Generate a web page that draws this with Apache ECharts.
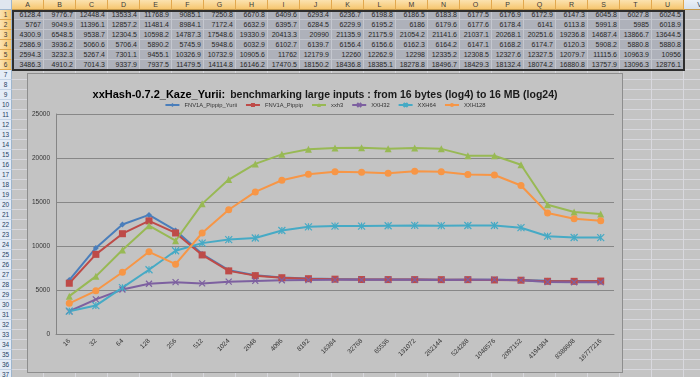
<!DOCTYPE html>
<html>
<head>
<meta charset="utf-8">
<script src="https://cdn.jsdelivr.net/npm/echarts@6/dist/echarts.min.js"></script>
<style>
  body { margin: 0; width: 700px; height: 377px; overflow: hidden; background: #c4c4c4; font-family: "Liberation Sans", Arial, sans-serif; }
  #sheet { position: absolute; left: 0; top: 0; width: 700px; height: 377px; }
  .c { position: absolute; box-sizing: border-box; font-size: 7px; line-height: 10px; white-space: nowrap; overflow: hidden; }
  #chart { position: absolute; left: 27px; top: 73px; width: 594px; height: 298px; background: #c3c3c3; border: 1px solid #8e8e8e; }
</style>
</head>
<body>
<div id="sheet"></div>
<div id="chart"></div>
<script>
// input sizes (bytes), 2^4 .. 2^24
const sizes = ['16', '32', '64', '128', '256', '512', '1024', '2048', '4096', '8192', '16384', '32768',
  '65536', '131072', '262144', '524288', '1048576', '2097152', '4194304', '8388608', '16777216'];

// MB/s per hash (rows 1..6 of the sheet)
const fnvPippipYurii = [6128.4, 9776.7, 12448.4, 13533.4, 11768.9, 9085.1, 7250.8, 6670.8, 6409.6, 6293.4, 6236.7,
  6198.8, 6186.5, 6183.8, 6177.5, 6176.9, 6172.9, 6147.3, 6045.8, 6027.8, 6024.5];
const fnvPippip = [5767, 9049.9, 11396.1, 12857.2, 11481.4, 8984.1, 7172.4, 6632.9, 6395.7, 6284.5, 6229.9,
  6195.2, 6186, 6179.6, 6177.6, 6178.4, 6141, 6113.8, 5991.8, 5985, 6018.9];
const xxh3 = [4300.9, 6548.5, 9538.7, 12304.5, 10598.2, 14787.3, 17548.6, 19330.9, 20413.3, 20990, 21135.9,
  21175.9, 21054.2, 21141.6, 21037.1, 20268.1, 20251.6, 19236.8, 14687.4, 13866.7, 13644.5];
const xxh32 = [2586.9, 3936.2, 5060.6, 5706.4, 5890.2, 5745.9, 5948.6, 6032.9, 6102.7, 6139.7, 6156.4,
  6156.6, 6162.3, 6164.2, 6147.1, 6168.2, 6174.7, 6120.3, 5908.2, 5880.8, 5880.8];
const xxh64 = [2594.3, 3232.3, 5267.4, 7301.1, 9455.1, 10326.9, 10732.9, 10905.6, 11762, 12179.9, 12260,
  12262.9, 12298, 12335.2, 12308.5, 12327.6, 12327.5, 12079.7, 11115.6, 10963.9, 10956];
const xxh128 = [3486.3, 4910.2, 7014.3, 9337.9, 7937.5, 11479.5, 14114.8, 16146.2, 17470.5, 18150.2, 18436.8,
  18385.1, 18278.8, 18496.7, 18429.3, 18132.4, 18074.2, 16880.8, 13757.9, 13096.3, 12876.1];

const seriesNames = ['FNV1A_Pippip_Yurii', 'FNV1A_Pippip', 'xxh3', 'XXH32', 'XXH64', 'XXH128'];
const seriesData = [fnvPippipYurii, fnvPippip, xxh3, xxh32, xxh64, xxh128];
const colLetters = 'ABCDEFGHIJKLMNOPQRSTUV'.split('');

// ---- worksheet (plain html) ----
const sheet = document.getElementById('sheet');
const COLW = 32, ROWH = 10, X0 = 12;
function cell(x, y, w, h, css, text) {
  const d = document.createElement('div');
  d.className = 'c';
  d.style.cssText = `left:${x}px;top:${y}px;width:${w}px;height:${h}px;` + css;
  if (text !== undefined) d.textContent = text;
  sheet.appendChild(d);
}
// corner
cell(0, 0, X0, ROWH, 'background:#dfe6ef;border-right:1px solid #9eb6ce;border-bottom:1px solid #9eb6ce;');
// column headers
colLetters.forEach((l, i) => {
  const sel = i < 21;
  cell(X0 + i * COLW, 0, COLW, ROWH,
    (sel ? 'background:linear-gradient(#fbe2b0,#f6c66f);color:#3a3a3a;border-right:1px solid #e2a84e;'
         : 'background:linear-gradient(#eaf0f7,#d6e1ee);color:#27415f;border-right:1px solid #9eb6ce;') +
    'border-bottom:1px solid #c79a4a;text-align:center;', l);
});
// row headers + cells
for (let r = 1; r <= 37; r++) {
  const y = r * ROWH;
  const sel = r <= 6;
  cell(0, y, X0, ROWH,
    (sel ? 'background:linear-gradient(90deg,#fbe2b0,#f6c66f);color:#3a3a3a;border-bottom:1px solid #e2a84e;'
         : 'background:#e4ecf7;color:#27415f;border-bottom:1px solid #c5d4e6;') +
    'border-right:1px solid #9eb6ce;text-align:center;font-size:6.5px;', String(r));
  for (let c = 0; c < 22; c++) {
    const inSel = sel && c < 21;
    const txt = inSel ? String(seriesData[r - 1][c]) : undefined;
    cell(X0 + c * COLW, y, COLW, ROWH,
      (inSel ? 'background:#aeb1ba;border-right:1px solid #c4c7cf;border-bottom:1px solid #c4c7cf;color:#262626;'
             : 'background:#c4c4c4;border-right:1px solid #d8d8de;border-bottom:1px solid #d8d8de;') +
      'text-align:right;padding-right:2px;', txt);
  }
}
// selection frame
cell(X0, ROWH, 21 * COLW + 1, 6 * ROWH + 1, 'border:2px solid #2e2e2e;');

// ---- chart ----
const colors = ['#4a7ebb', '#be4b48', '#98b954', '#7d60a0', '#46aac5', '#f79646'];
const symbols = ['diamond', 'rect', 'triangle',
  'path://M0,0L10,10M10,0L0,10',
  'path://M0,0L10,10M10,0L0,10M5,0L5,10',
  'circle'];
const symbolSizes = [6, 7, 7, 6, 7, 7];

const myChart = echarts.init(document.getElementById('chart'), null, { renderer: 'canvas' });
myChart.setOption({
  animation: false,
  backgroundColor: '#c3c3c3',
  title: {
    text: '{b|xxHash-0.7.2_Kaze_Yurii:} {n|benchmarking large inputs : from 16 bytes (log4) to 16 MB (log24)}',
    left: 'center',
    top: 7,
    textStyle: {
      rich: {
        b: { fontSize: 11, fontWeight: 'bold', color: '#000', fontFamily: 'Liberation Sans' },
        n: { fontSize: 10.5, color: '#1a1a1a', fontFamily: 'Liberation Sans' },
      },
    },
  },
  legend: {
    top: 23,
    left: 'center',
    itemWidth: 14,
    itemHeight: 5,
    itemGap: 8,
    textStyle: { fontSize: 5.8, color: '#333' },
    data: seriesNames,
  },
  grid: { left: 28, right: 8, top: 40, bottom: 38 },
  xAxis: {
    type: 'category',
    data: sizes,
    axisLine: { lineStyle: { color: '#858585' } },
    axisTick: { interval: 0, length: 3, lineStyle: { color: '#858585' } },
    axisLabel: { interval: 0, rotate: 45, fontSize: 6.5, color: '#333', margin: 6 },
  },
  yAxis: {
    type: 'value',
    min: 0,
    max: 25000,
    interval: 5000,
    axisLine: { show: true, lineStyle: { color: '#858585' } },
    axisTick: { show: false },
    axisLabel: { fontSize: 6.5, color: '#333', margin: 6, formatter: (v) => String(v) },
    splitLine: { lineStyle: { color: '#878787', width: 1 } },
  },
  series: seriesNames.map((name, i) => ({
    name,
    type: 'line',
    data: seriesData[i],
    symbol: symbols[i],
    symbolSize: symbolSizes[i],
    showAllSymbol: true,
    lineStyle: { color: colors[i], width: 2 },
    itemStyle: { color: colors[i], borderColor: colors[i], borderWidth: i === 3 || i === 4 ? 1.2 : 0 },
  })),
});
</script>
</body>
</html>
